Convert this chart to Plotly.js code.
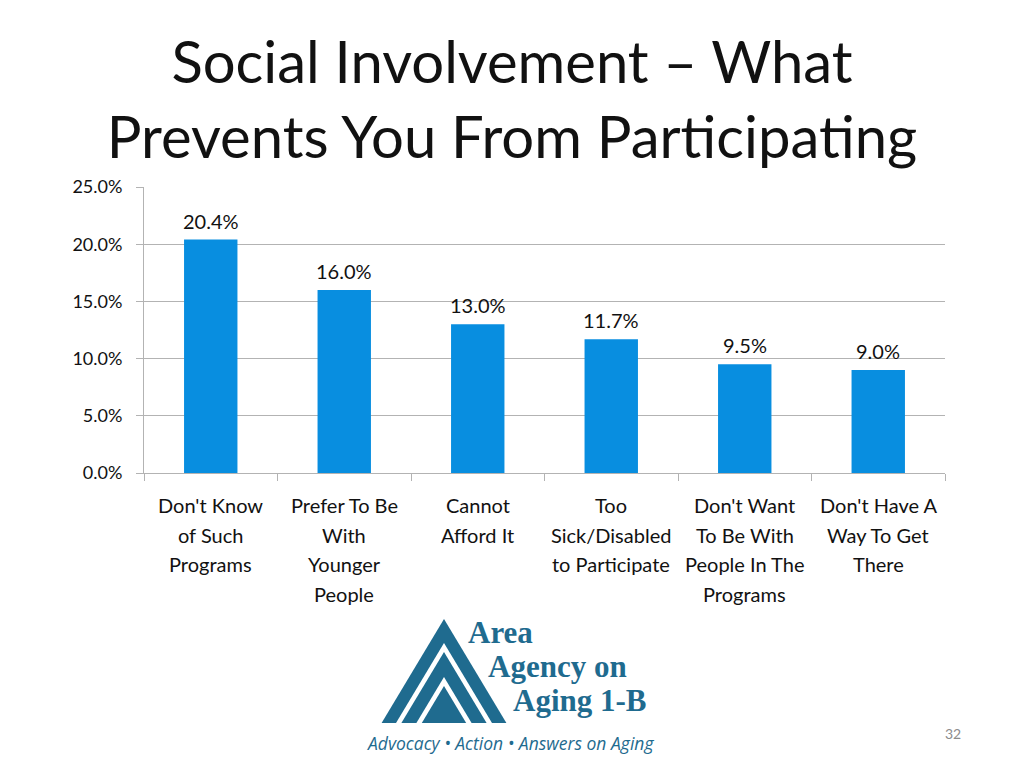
<!DOCTYPE html>
<html>
<head>
<meta charset="utf-8">
<script src="https://cdn.plot.ly/plotly-3.0.1.min.js"></script>
<style>
  html, body { margin: 0; padding: 0; background: #fff; }
  #chart { width: 1024px; height: 768px; }
</style>
</head>
<body>
<div id="chart"></div>
<script>
const categories = [
    "Don't Know|of Such|Programs",
    "Prefer To Be|With|Younger|People",
    "Cannot|Afford It",
    "Too|Sick/Disabled|to Participate",
    "Don't Want|To Be With|People In The|Programs",
    "Don't Have A|Way To Get|There"
];
const percentValues = [20.4, 16.0, 13.0, 11.7, 9.5, 9.0];
const yTickValues = [0, 5, 10, 15, 20, 25];
const yTickLabels = ["0.0%", "5.0%", "10.0%", "15.0%", "20.0%", "25.0%"];

const bar_cl = "#088ee0";
const grid_cl = "#b3b3b3";
const logo_cl = "#1f6b8f";
const font_main = "Lato, 'Open Sans', sans-serif";

// plot area in pixels: left 144, right 945, top 187, bottom 473
const plotL = 144, plotR = 945, plotT = 187, plotB = 473;
const px = x => (x - plotL) / (plotR - plotL);
const py = y => (plotB - y) / (plotB - plotT);

function triangle(apexY, baseY, halfRatio, cx, color) {
    const hw = (baseY - apexY) * halfRatio;
    return {
        type: 'path',
        xref: 'paper', yref: 'paper',
        path: 'M ' + px(cx) + ',' + py(apexY) +
              ' L ' + px(cx + hw) + ',' + py(baseY) +
              ' L ' + px(cx - hw) + ',' + py(baseY) + ' Z',
        fillcolor: color,
        line: {width: 0},
        layer: 'above'
    };
}

// category labels drawn line by line so the line spacing matches the slide
const catKeys = categories.map((c, i) => 'c' + i);
const labelAnnotations = [];
categories.forEach((c, i) => {
    c.split('|').forEach((line, j) => {
        labelAnnotations.push({
            x: catKeys[i], y: 0,
            xref: 'x', yref: 'paper',
            text: line,
            showarrow: false,
            xanchor: 'center', yanchor: 'middle',
            yshift: -(32 + j * 29.5),
            font: {family: font_main, size: 20, color: '#111111'}
        });
    });
});

// value labels above each bar
const valueAnnotations = percentValues.map((v, i) => ({
    x: catKeys[i], y: v,
    xref: 'x', yref: 'y',
    text: v.toFixed(1) + '%',
    showarrow: false,
    xanchor: 'center', yanchor: 'bottom',
    yshift: 5,
    font: {family: font_main, size: 20, color: '#111111'}
}));

const trace = {
    x: catKeys,
    y: percentValues,
    type: 'bar',
    marker: {color: bar_cl, line: {width: 0}},
    hovertemplate: '%{y:.1f}%<extra></extra>'
};

const logoFont = {family: "'Liberation Serif', serif", size: 31, color: logo_cl};

const layout = {
    width: 1024,
    height: 768,
    margin: {l: plotL, r: 1024 - plotR, t: plotT, b: 768 - plotB},
    paper_bgcolor: '#ffffff',
    plot_bgcolor: '#ffffff',
    showlegend: false,
    bargap: 0.6,
    font: {family: font_main, color: '#111111'},
    title: {
        text: 'Social Involvement \u2013 What<br>Prevents You From Participating',
        font: {family: font_main, size: 58, color: '#111111'},
        x: 0.5, xanchor: 'center',
        y: 1 - 83 / 768, yanchor: 'middle',
        yref: 'container'
    },
    xaxis: {
        type: 'category',
        showticklabels: false,
        tickson: 'boundaries',
        ticks: 'outside',
        ticklen: 7,
        tickcolor: grid_cl,
        showline: true,
        linecolor: grid_cl,
        linewidth: 1,
        showgrid: false,
        fixedrange: true
    },
    yaxis: {
        range: [0, 25],
        tickvals: yTickValues,
        ticktext: yTickLabels,
        ticks: 'outside',
        ticklen: 7,
        tickcolor: grid_cl,
        ticklabelstandoff: 10,
        tickfont: {family: font_main, size: 18, color: '#111111'},
        showline: true,
        linecolor: grid_cl,
        showgrid: true,
        gridcolor: grid_cl,
        gridwidth: 1,
        zeroline: false,
        fixedrange: true
    },
    shapes: [
        triangle(619, 723, 0.6, 444, logo_cl),
        triangle(643, 723, 0.6, 444, '#ffffff'),
        triangle(652, 723, 0.6, 444, logo_cl),
        triangle(677, 723, 0.6, 444, '#ffffff'),
        triangle(686, 723, 0.6, 444, logo_cl)
    ],
    annotations: labelAnnotations.concat(valueAnnotations, [
        {
            x: px(466), y: py(652), xref: 'paper', yref: 'paper',
            text: '<b>Area</b>', showarrow: false,
            xanchor: 'left', yanchor: 'bottom',
            font: logoFont
        },
        {
            x: px(486), y: py(686), xref: 'paper', yref: 'paper',
            text: '<b>Agency on</b>', showarrow: false,
            xanchor: 'left', yanchor: 'bottom',
            font: logoFont
        },
        {
            x: px(511), y: py(720), xref: 'paper', yref: 'paper',
            text: '<b>Aging 1-B</b>', showarrow: false,
            xanchor: 'left', yanchor: 'bottom',
            font: logoFont
        },
        {
            x: px(510), y: py(743), xref: 'paper', yref: 'paper',
            text: '<i>Advocacy \u2022 Action \u2022 Answers on Aging</i>', showarrow: false,
            xanchor: 'center', yanchor: 'middle',
            font: {family: "'Open Sans', sans-serif", size: 17.5, color: logo_cl}
        },
        {
            x: px(953), y: py(733), xref: 'paper', yref: 'paper',
            text: '32', showarrow: false,
            xanchor: 'center', yanchor: 'middle',
            font: {family: font_main, size: 14, color: '#8c8c8c'}
        }
    ])
};

Plotly.newPlot('chart', [trace], layout, {displayModeBar: false, staticPlot: true});
</script>
</body>
</html>
